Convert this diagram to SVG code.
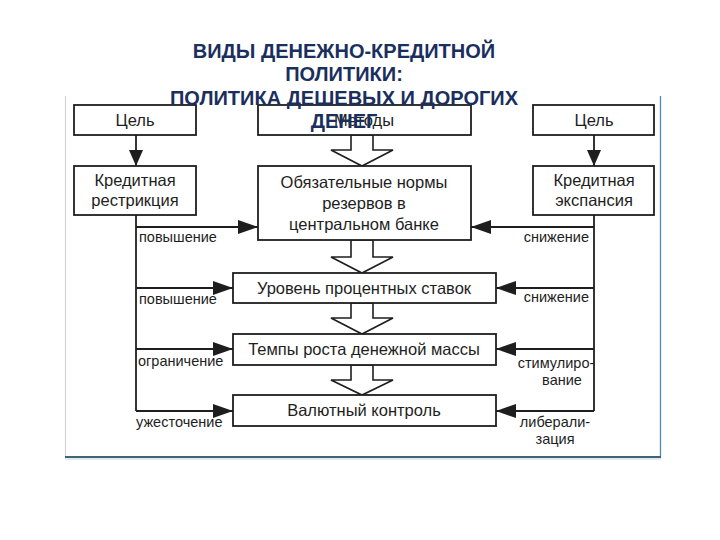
<svg xmlns="http://www.w3.org/2000/svg" width="720" height="540" viewBox="0 0 720 540">
<defs>
<style>
.box{fill:#fff;stroke:#1e1e1e;stroke-width:1.8}
.t{font-family:"Liberation Sans",Arial,sans-serif;font-size:16.5px;fill:#1e1e1e;text-anchor:middle}
.lbl{font-family:"Liberation Sans",Arial,sans-serif;font-size:14.5px;fill:#1e1e1e}
.ln{fill:none;stroke:#1e1e1e;stroke-width:1.8}
.hollow{fill:#fff;stroke:#1e1e1e;stroke-width:1.6;stroke-linejoin:miter}
.title{font-family:"Liberation Sans",Arial,sans-serif;font-size:20px;font-weight:bold;fill:#1b2f5e;text-anchor:middle}
</style>
<marker id="ah" viewBox="0 0 20 14" refX="20" refY="7" markerWidth="20" markerHeight="14" markerUnits="userSpaceOnUse" orient="auto">
<path d="M0,0 L20,7 L0,14 Z" fill="#1e1e1e"/>
</marker>
<marker id="av" viewBox="0 0 16 14" refX="16" refY="7" markerWidth="16" markerHeight="14" markerUnits="userSpaceOnUse" orient="auto">
<path d="M0,0 L16,7 L0,14 Z" fill="#1e1e1e"/>
</marker>
</defs>
<rect width="720" height="540" fill="#fff"/>
<g id="frame">
<line x1="65.5" y1="96" x2="65.5" y2="457" stroke="#d2d6da" stroke-width="1.2"/>
<line x1="660.5" y1="96" x2="660.5" y2="457" stroke="#5a86a6" stroke-width="1.3"/>
<line x1="65" y1="457" x2="661" y2="457" stroke="#3f6478" stroke-width="2"/>
<line x1="65" y1="459" x2="661" y2="459" stroke="#c9d3da" stroke-width="1"/>
</g>
<g id="connectors">
<line class="ln" x1="136" y1="135" x2="136" y2="166" marker-end="url(#av)"/>
<line class="ln" x1="594" y1="135" x2="594" y2="166" marker-end="url(#av)"/>
<polyline class="ln" points="136,215 136,411"/>
<polyline class="ln" points="594,215 594,411"/>
<line class="ln" x1="136" y1="227" x2="258" y2="227" marker-end="url(#ah)"/>
<line class="ln" x1="136" y1="288" x2="233" y2="288" marker-end="url(#ah)"/>
<line class="ln" x1="136" y1="349" x2="233" y2="349" marker-end="url(#ah)"/>
<line class="ln" x1="136" y1="411" x2="233" y2="411" marker-end="url(#ah)"/>
<line class="ln" x1="594" y1="227" x2="471" y2="227" marker-end="url(#ah)"/>
<line class="ln" x1="594" y1="288" x2="496" y2="288" marker-end="url(#ah)"/>
<line class="ln" x1="594" y1="349" x2="496" y2="349" marker-end="url(#ah)"/>
<line class="ln" x1="594" y1="411" x2="496" y2="411" marker-end="url(#ah)"/>
<polygon class="hollow" points="351,135 373,135 373,150 393,150 362,166 331,150 351,150"/>
<polygon class="hollow" points="351,240 373,240 373,257 393,257 362,273 331,257 351,257"/>
<polygon class="hollow" points="351,303 373,303 373,318 393,318 362,334 331,318 351,318"/>
<polygon class="hollow" points="351,365 373,365 373,380 393,380 362,395 331,380 351,380"/>
<text class="lbl" x="139" y="242">повышение</text>
<text class="lbl" x="139" y="304">повышение</text>
<text class="lbl" x="138" y="366">ограничение</text>
<text class="lbl" x="136" y="427">ужесточение</text>
<text class="lbl" x="589" y="242" text-anchor="end">снижение</text>
<text class="lbl" x="589" y="302" text-anchor="end">снижение</text>
<text class="lbl" x="556" y="368" text-anchor="middle">стимулиро-</text>
<text class="lbl" x="562" y="385" text-anchor="middle">вание</text>
<text class="lbl" x="555" y="427" text-anchor="middle">либерали-</text>
<text class="lbl" x="555" y="444" text-anchor="middle">зация</text>
</g>
<g id="goal-left">
<rect class="box" x="74" y="105" width="122" height="30"/>
<text class="t" x="135" y="126">Цель</text>
</g>
<g id="restriction">
<rect class="box" x="74" y="166" width="122" height="49"/>
<text class="t" x="135" y="186">Кредитная</text>
<text class="t" x="135" y="206">рестрикция</text>
</g>
<g id="methods">
<rect class="box" x="258" y="105" width="213" height="30"/>
<text class="t" x="364" y="126">Методы</text>
</g>
<g id="reserves">
<rect class="box" x="258" y="166" width="213" height="74"/>
<text class="t" x="364" y="188">Обязательные нормы</text>
<text class="t" x="364" y="209">резервов в</text>
<text class="t" x="364" y="230">центральном банке</text>
</g>
<g id="goal-right">
<rect class="box" x="533" y="105" width="121" height="30"/>
<text class="t" x="594" y="126">Цель</text>
</g>
<g id="expansion">
<rect class="box" x="533" y="166" width="121" height="49"/>
<text class="t" x="594" y="186">Кредитная</text>
<text class="t" x="594" y="206">экспансия</text>
</g>
<g id="rates">
<rect class="box" x="233" y="273" width="263" height="30"/>
<text class="t" x="364" y="294">Уровень процентных ставок</text>
</g>
<g id="money">
<rect class="box" x="233" y="334" width="263" height="31"/>
<text class="t" x="364" y="355">Темпы роста денежной массы</text>
</g>
<g id="currency">
<rect class="box" x="233" y="395" width="263" height="31"/>
<text class="t" x="364" y="416">Валютный контроль</text>
</g>
<g id="title">
<text class="title" x="344" y="58">ВИДЫ ДЕНЕЖНО-КРЕДИТНОЙ</text>
<text class="title" x="344" y="81">ПОЛИТИКИ:</text>
<text class="title" x="344" y="105">ПОЛИТИКА ДЕШЕВЫХ И ДОРОГИХ</text>
<text class="title" x="344" y="128">ДЕНЕГ</text>
</g>
</svg>
